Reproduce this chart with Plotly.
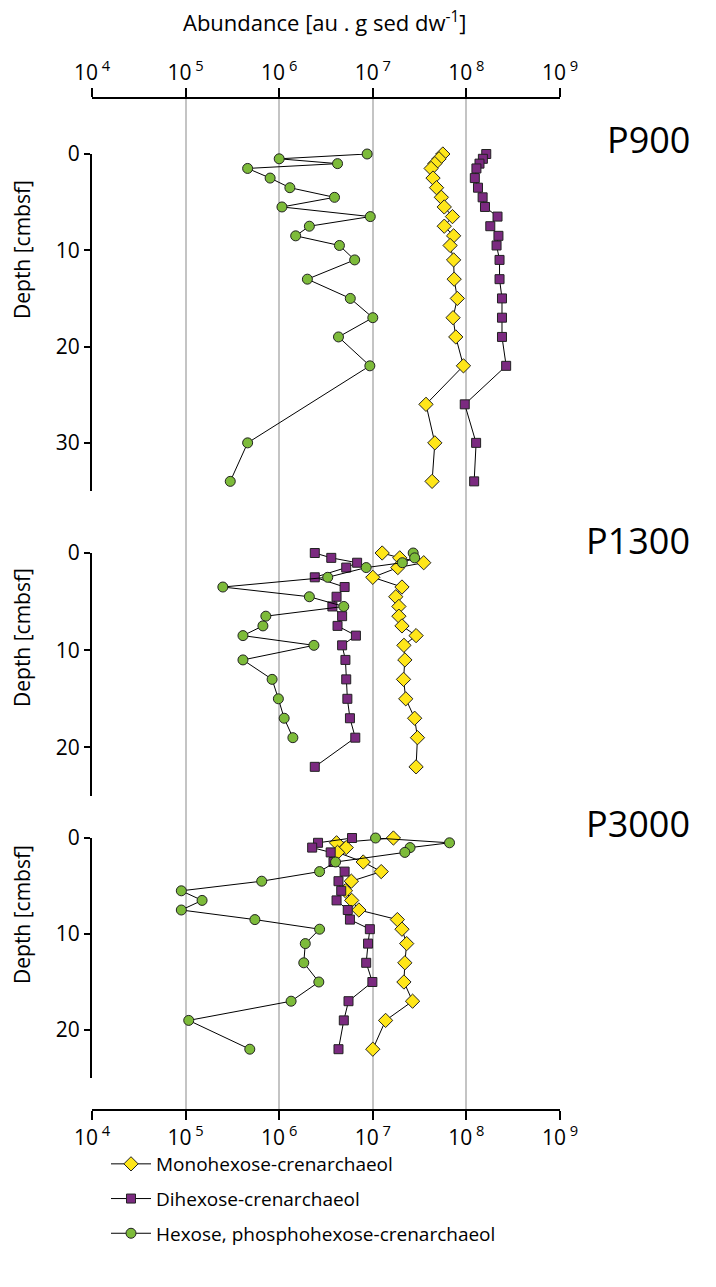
import plotly.graph_objects as go

# ---------------- data ----------------
depth_p900 = [0, 0.5, 1, 1.5, 2.5, 3.5, 4.5, 5.5, 6.5, 7.5, 8.5, 9.5, 11, 13, 15, 17, 19, 22, 26, 30, 34]
mono_p900 = [5.6e7, 5.1e7, 4.6e7, 4.2e7, 4.4e7, 4.8e7, 5.4e7, 5.8e7, 7.1e7, 5.8e7, 7.3e7, 6.7e7,
             7.3e7, 7.4e7, 8.0e7, 7.2e7, 7.7e7, 9.3e7, 3.7e7, 4.6e7, 4.3e7]
di_p900 = [1.63e8, 1.5e8, 1.38e8, 1.28e8, 1.23e8, 1.33e8, 1.49e8, 1.58e8, 2.15e8, 1.8e8, 2.2e8, 2.1e8,
           2.26e8, 2.26e8, 2.4e8, 2.4e8, 2.4e8, 2.66e8, 9.6e7, 1.27e8, 1.21e8]
depth_hex_p900 = [0, 0.5, 1, 1.5, 2.5, 3.5, 4.5, 5.5, 6.5, 7.5, 8.5, 9.5, 11, 13, 15, 17, 19, 22, 30, 34]
hex_p900 = [8.7e6, 1.0e6, 4.2e6, 4.6e5, 8.0e5, 1.3e6, 3.9e6, 1.07e6, 9.4e6, 2.1e6, 1.5e6, 4.4e6,
            6.4e6, 2.0e6, 5.75e6, 1.0e7, 4.3e6, 9.3e6, 4.6e5, 3.0e5]

depth_p1300 = [0, 0.5, 1, 1.5, 2.5, 3.5, 4.5, 5.5, 6.5, 7.5, 8.5, 9.5, 11, 13, 15, 17, 19, 22]
mono_p1300 = [1.26e7, 1.94e7, 3.5e7, 1.85e7, 1.0e7, 2.05e7, 1.76e7, 1.9e7, 1.9e7, 2.05e7, 2.9e7, 2.15e7,
              2.2e7, 2.13e7, 2.25e7, 2.8e7, 3.0e7, 2.9e7]
di_p1300 = [2.4e6, 3.6e6, 6.8e6, 5.2e6, 2.4e6, 5.0e6, 4.1e6, 3.7e6, 4.7e6, 4.2e6, 6.6e6, 4.7e6,
            5.1e6, 5.2e6, 5.35e6, 5.7e6, 6.5e6, 2.4e6]
depth_hex_p1300 = [0, 0.5, 1, 1.5, 2.5, 3.5, 4.5, 5.5, 6.5, 7.5, 8.5, 9.5, 11, 13, 15, 17, 19]
hex_p1300 = [2.7e7, 2.8e7, 2.07e7, 8.5e6, 3.3e6, 2.5e5, 2.1e6, 4.9e6, 7.2e5, 6.7e5, 4.1e5, 2.35e6,
             4.1e5, 8.4e5, 9.8e5, 1.13e6, 1.4e6]

depth_p3000 = [0, 0.5, 1, 1.5, 2.5, 3.5, 4.5, 5.5, 6.5, 7.5, 8.5, 9.5, 11, 13, 15, 17, 19, 22]
mono_p3000 = [1.66e7, 4.1e6, 5.2e6, 4.2e6, 7.9e6, 1.23e7, 5.9e6, 5.1e6, 5.95e6, 7.1e6, 1.83e7, 2.05e7,
              2.3e7, 2.2e7, 2.15e7, 2.66e7, 1.37e7, 1.0e7]
di_p3000 = [6.0e6, 2.6e6, 2.25e6, 3.55e6, 3.8e6, 5.0e6, 4.3e6, 4.6e6, 4.1e6, 5.4e6, 5.7e6, 9.3e6,
            8.9e6, 8.5e6, 9.9e6, 5.5e6, 4.9e6, 4.3e6]
hex_p3000 = [1.07e7, 6.6e7, 2.5e7, 2.2e7, 4.0e6, 2.7e6, 6.5e5, 9.0e4, 1.5e5, 9.0e4, 5.5e5, 2.7e6,
             1.9e6, 1.83e6, 2.65e6, 1.34e6, 1.08e5, 4.85e5]

x_tickvals = [1e4, 1e5, 1e6, 1e7, 1e8, 1e9]
x_ticktext = ["10<sup> 4</sup>", "10<sup> 5</sup>", "10<sup> 6</sup>",
              "10<sup> 7</sup>", "10<sup> 8</sup>", "10<sup> 9</sup>"]
y_tickvals_p900 = [0, 10, 20, 30]
y_tickvals_short = [0, 10, 20]
series_names = ["Monohexose-crenarchaeol", "Dihexose-crenarchaeol",
                "Hexose, phosphohexose-crenarchaeol"]
panel_names = ["P900", "P1300", "P3000"]

# ---------------- styling ----------------
FONT = "Open Sans"
FS = 21
styles = [
    dict(symbol="diamond", color="#FFE619", size=11),
    dict(symbol="square", color="#7B2A80", size=9),
    dict(symbol="circle", color="#7DBB3A", size=10),
]

W, H = 716, 1287
L, R, T, B = 92, 156, 99, 178
PH = H - T - B


def py(pix):
    return (H - B - pix) / PH


def px(pix):
    return (pix - L) / (W - L - R)


fig = go.Figure()

# invisible traces to create the main full-height subplot and top axis
fig.add_trace(go.Scatter(x=[1e5], y=[0.5], xaxis="x", yaxis="y", mode="markers",
                         marker=dict(opacity=0), showlegend=False, hoverinfo="skip"))
fig.add_trace(go.Scatter(x=[1e5], y=[0.5], xaxis="x2", yaxis="y", mode="markers",
                         marker=dict(opacity=0), showlegend=False, hoverinfo="skip"))

panels = [
    ("y2", [(depth_p900, mono_p900), (depth_p900, di_p900), (depth_hex_p900, hex_p900)]),
    ("y3", [(depth_p1300, mono_p1300), (depth_p1300, di_p1300), (depth_hex_p1300, hex_p1300)]),
    ("y4", [(depth_p3000, mono_p3000), (depth_p3000, di_p3000), (depth_p3000, hex_p3000)]),
]

for pi, (yax, series) in enumerate(panels):
    for si, (d, v) in enumerate(series):
        st = styles[si]
        fig.add_trace(go.Scatter(
            x=v, y=d, xaxis="x", yaxis=yax, mode="lines+markers",
            name=series_names[si], legendgroup=series_names[si],
            showlegend=(pi == 0), cliponaxis=False,
            line=dict(color="black", width=1),
            marker=dict(symbol=st["symbol"], color=st["color"], size=st["size"],
                        line=dict(color="#222222", width=1)),
        ))

xcommon = dict(type="log", range=[4, 9], tickvals=x_tickvals, ticktext=x_ticktext,
               showline=True, linecolor="black", linewidth=2, ticks="outside",
               ticklen=9, tickwidth=2, tickcolor="black", automargin=False,
               tickfont=dict(family=FONT, size=FS, color="black"))

ycommon = dict(showline=True, linecolor="black", linewidth=2, ticks="outside", ticklen=6,
               tickwidth=2, tickcolor="black", showgrid=False, zeroline=False, anchor="x",
               automargin=False,
               tickfont=dict(family=FONT, size=FS, color="black"))

fig.update_layout(
    width=W, height=H,
    margin=dict(l=L, r=R, t=T, b=B, autoexpand=False),
    paper_bgcolor="white", plot_bgcolor="rgba(0,0,0,0)",
    font=dict(family=FONT, size=FS, color="black"),
    xaxis=dict(**xcommon, side="bottom", anchor="y", showgrid=True,
               gridcolor="#C4C4C4", gridwidth=2, domain=[0, 1]),
    xaxis2=dict(**xcommon, side="top", anchor="y", overlaying="x", matches="x", showgrid=False),
    yaxis=dict(domain=[0, 1], range=[0, 1], visible=False, fixedrange=True),
    yaxis2=dict(**ycommon, domain=[py(491), py(154)], range=[35, 0], tickvals=y_tickvals_p900),
    yaxis3=dict(**ycommon, domain=[py(796), py(553)], range=[25, 0], tickvals=y_tickvals_short),
    yaxis4=dict(**ycommon, domain=[py(1078), py(838)], range=[25, 0], tickvals=y_tickvals_short),
    legend=dict(xref="container", yref="container", x=106 / W, y=1 - 1145 / H,
                xanchor="left", yanchor="top",
                font=dict(family=FONT, size=19, color="black"),
                itemwidth=40, tracegroupgap=7, bgcolor="rgba(0,0,0,0)"),
    showlegend=True,
)

annotations = [
    dict(text="Abundance [au . g sed dw<sup>-1</sup>]", x=px(324), y=py(22), xref="paper",
         yref="paper", showarrow=False, xanchor="center", yanchor="middle",
         font=dict(family=FONT, size=22, color="black")),
]
# y-axis titles (one per panel)
for ycenter in [250, 638, 915]:
    annotations.append(dict(text="Depth [cmbsf]", x=px(22), y=py(ycenter),
                            xref="paper", yref="paper", showarrow=False, textangle=-90,
                            xanchor="center", yanchor="middle",
                            font=dict(family=FONT, size=21, color="black")))
for name, ypix in zip(panel_names, [139, 540, 823]):
    annotations.append(dict(text=name, x=px(692), y=py(ypix), xref="paper", yref="paper",
                            showarrow=False, xanchor="right", yanchor="middle",
                            font=dict(family=FONT, size=36, color="black")))
fig.update_layout(annotations=annotations)

fig.write_html("out.html")
